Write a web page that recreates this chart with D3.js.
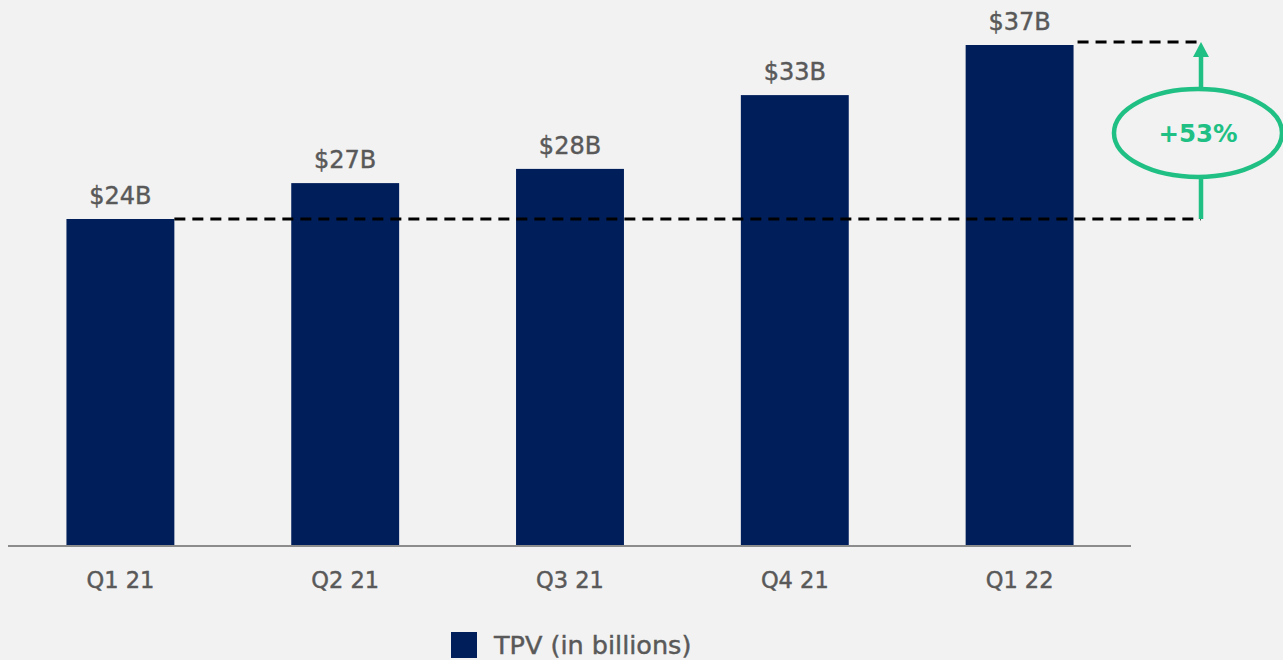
<!DOCTYPE html>
<html>
<head>
<meta charset="utf-8">
<script src="https://cdn.jsdelivr.net/npm/d3@7"></script>
<style>
  body { margin: 0; background: #f2f2f2; }
  svg { display: block; font-family: "DejaVu Sans", sans-serif; }
  .heavy { stroke: #595959; stroke-width: 0.45px; }
</style>
</head>
<body>
<div id="chart"></div>
<script>
const quarters = ["Q1 21", "Q2 21", "Q3 21", "Q4 21", "Q1 22"];
const tpv = [24.15, 26.8, 27.85, 33.3, 37.0];
const valueLabels = ["$24B", "$27B", "$28B", "$33B", "$37B"];
const growthLabel = "+53%";
const legendLabel = "TPV (in billions)";

const width = 1283,
  height = 660,
  baseline = 546;

const navy = "#001e5a",
  green = "#20c084",
  grey = "#595959";

const svg = d3
  .select("#chart")
  .append("svg")
  .attr("width", width)
  .attr("height", height)
  .attr("viewBox", [0, 0, width, height]);

svg.append("rect").attr("width", width).attr("height", height).attr("fill", "#f2f2f2");

let x = d3
  .scaleBand()
  .domain(quarters)
  .range([8, 1132])
  .paddingInner(0.52)
  .paddingOuter(0.26);

let y = d3.scaleLinear().domain([0, 37]).range([baseline, 45]);

// bars
svg
  .selectAll("rect.bar")
  .data(quarters)
  .join("rect")
  .attr("class", "bar")
  .attr("x", (d) => x(d))
  .attr("y", (d, i) => y(tpv[i]))
  .attr("width", x.bandwidth())
  .attr("height", (d, i) => baseline - y(tpv[i]))
  .attr("fill", navy);

// value labels above bars
svg
  .selectAll("text.value")
  .data(quarters)
  .join("text")
  .attr("class", "value heavy")
  .attr("x", (d) => x(d) + x.bandwidth() / 2)
  .attr("y", (d, i) => y(tpv[i]) - 15)
  .attr("text-anchor", "middle")
  .attr("font-size", 24)
  .attr("fill", grey)
  .text((d, i) => valueLabels[i]);

// x axis
const xAxis = svg
  .append("g")
  .attr("transform", `translate(0,${baseline})`)
  .call(d3.axisBottom(x).tickSize(0));
xAxis.select(".domain").attr("stroke", "#8c8c8c").attr("stroke-width", 2).attr("d", "M8,0H1131");
xAxis
  .selectAll("text")
  .attr("class", "heavy")
  .attr("y", 42)
  .attr("dy", null)
  .attr("font-size", 22.5)
  .attr("font-family", "DejaVu Sans, sans-serif")
  .attr("fill", grey);

// dashed comparison lines
const arrowX = 1201;
const lowY = y(tpv[0]),
  highY = y(tpv[tpv.length - 1]) - 3;

svg
  .append("line")
  .attr("x1", x(quarters[0]) + x.bandwidth())
  .attr("x2", arrowX)
  .attr("y1", lowY)
  .attr("y2", lowY)
  .attr("stroke", "#000")
  .attr("stroke-width", 3)
  .attr("stroke-dasharray", "11,7");

svg
  .append("line")
  .attr("x1", x(quarters[4]) + x.bandwidth() + 4)
  .attr("x2", arrowX)
  .attr("y1", highY)
  .attr("y2", highY)
  .attr("stroke", "#000")
  .attr("stroke-width", 3)
  .attr("stroke-dasharray", "11,7");

// growth arrow + ellipse
svg
  .append("line")
  .attr("x1", arrowX)
  .attr("x2", arrowX)
  .attr("y1", lowY)
  .attr("y2", highY + 14)
  .attr("stroke", green)
  .attr("stroke-width", 4.5);

svg
  .append("path")
  .attr("d", `M${arrowX - 8},${highY + 15}L${arrowX},${highY}L${arrowX + 8},${highY + 15}Z`)
  .attr("fill", green);

const ecx = 1198,
  ecy = 133;
svg
  .append("ellipse")
  .attr("cx", ecx)
  .attr("cy", ecy)
  .attr("rx", 84)
  .attr("ry", 44)
  .attr("fill", "#f2f2f2")
  .attr("stroke", green)
  .attr("stroke-width", 4.5);

svg
  .append("text")
  .attr("x", ecx)
  .attr("y", ecy + 9)
  .attr("text-anchor", "middle")
  .attr("font-size", 24.5)
  .attr("font-weight", "bold")
  .attr("fill", green)
  .text(growthLabel);

// legend
const legend = svg.append("g").attr("transform", "translate(451,632)");
legend.append("rect").attr("width", 26).attr("height", 26).attr("fill", navy);
legend
  .append("text")
  .attr("class", "heavy")
  .attr("x", 43)
  .attr("y", 22)
  .attr("font-size", 25.5)
  .attr("fill", grey)
  .text(legendLabel);
</script>
</body>
</html>
